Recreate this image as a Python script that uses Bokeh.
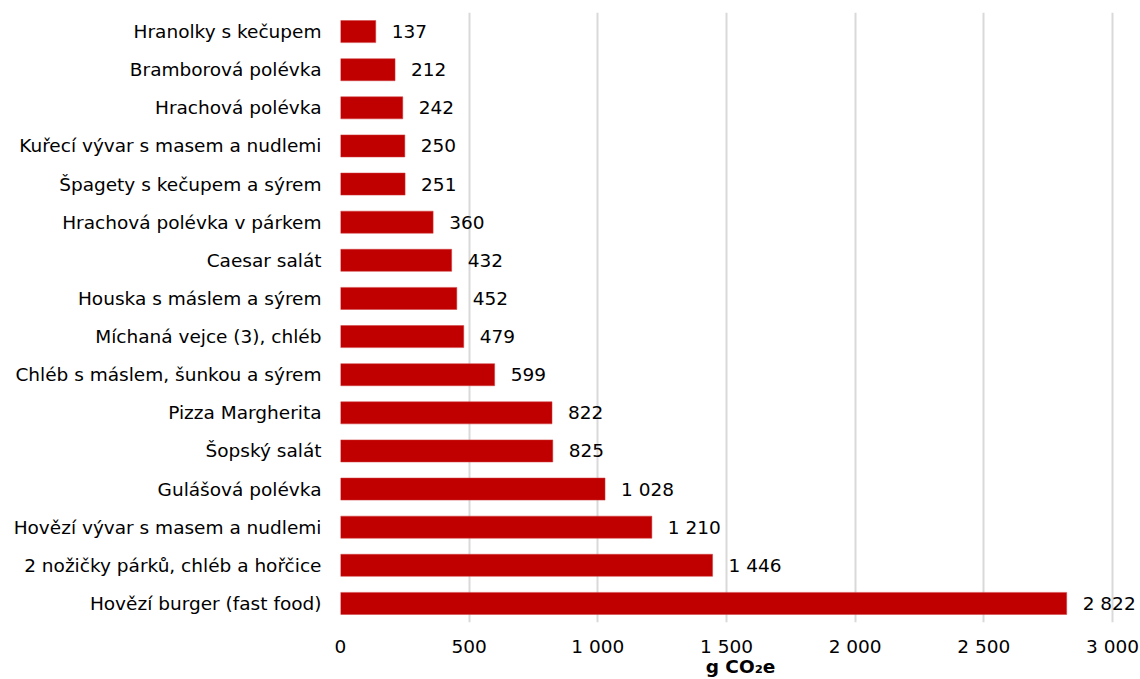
from bokeh.plotting import figure
from bokeh.models import ColumnDataSource, FactorRange, Range1d, FixedTicker
from bokeh.core.properties import value
from bokeh.embed import file_html
from bokeh.resources import INLINE

foods = [
    "Hranolky s kečupem",
    "Bramborová polévka",
    "Hrachová polévka",
    "Kuřecí vývar s masem a nudlemi",
    "Špagety s kečupem a sýrem",
    "Hrachová polévka v párkem",
    "Caesar salát",
    "Houska s máslem a sýrem",
    "Míchaná vejce (3), chléb",
    "Chléb s máslem, šunkou a sýrem",
    "Pizza Margherita",
    "Šopský salát",
    "Gulášová polévka",
    "Hovězí vývar s masem a nudlemi",
    "2 nožičky párků, chléb a hořčice",
    "Hovězí burger (fast food)",
]
emissions = [137, 212, 242, 250, 251, 360, 432, 452, 479, 599, 822, 825, 1028, 1210, 1446, 2822]
tick_values = [0, 500, 1000, 1500, 2000, 2500, 3000]

def fmt(v):
    return f"{v:,}".replace(",", " ")

src = ColumnDataSource(dict(food=foods, val=emissions, lab=[fmt(v) for v in emissions]))

FONT = "DejaVu Sans"
FS = "18.5px"
TXT = "#000000"
p = figure(width=1140, height=679, output_backend="svg", toolbar_location=None,
           y_range=FactorRange(factors=list(reversed(foods))),
           x_range=Range1d(0, 3108.8))
p.min_border_left = 340
p.min_border_right = 0
p.min_border_top = 12
p.min_border_bottom = 0
p.outline_line_color = None

p.hbar(y="food", right="val", left=0, height=0.58, source=src,
       fill_color="#c00000", line_color="#d04040", line_width=0.5)
p.text(x="val", y="food", text="lab", source=src, x_offset=16,
       text_baseline="middle", text_align="left", text_font=value(FONT),
       text_font_size=FS, text_color=TXT)

p.ygrid.grid_line_color = None
p.xgrid.grid_line_color = "#d9d9d9"
p.xgrid.grid_line_width = 2
p.xaxis.ticker = FixedTicker(ticks=tick_values)
p.xgrid.ticker = FixedTicker(ticks=tick_values)
p.xaxis.major_label_overrides = {t: fmt(t) for t in tick_values}
p.xaxis.axis_line_color = None
p.xaxis.major_tick_line_color = None
p.xaxis.minor_tick_line_color = None
p.xaxis.major_tick_out = 0
p.xaxis.minor_tick_out = 0
p.xaxis.major_label_text_font = FONT
p.xaxis.major_label_text_font_size = FS
p.xaxis.major_label_text_color = TXT
p.xaxis.major_label_standoff = 13
p.xaxis.axis_label = "g CO₂e"
p.xaxis.axis_label_text_font = FONT
p.xaxis.axis_label_text_font_style = "bold"
p.xaxis.axis_label_text_font_size = FS
p.xaxis.axis_label_text_color = TXT
p.xaxis.axis_label_standoff = -4

p.yaxis.axis_line_color = None
p.yaxis.major_tick_line_color = None
p.yaxis.minor_tick_line_color = None
p.yaxis.major_tick_out = 0
p.yaxis.minor_tick_out = 0
p.yaxis.major_label_text_font = FONT
p.yaxis.major_label_text_font_size = FS
p.yaxis.major_label_text_color = TXT
p.yaxis.major_label_standoff = 19

open("out.html", "w").write(file_html(p, INLINE))
